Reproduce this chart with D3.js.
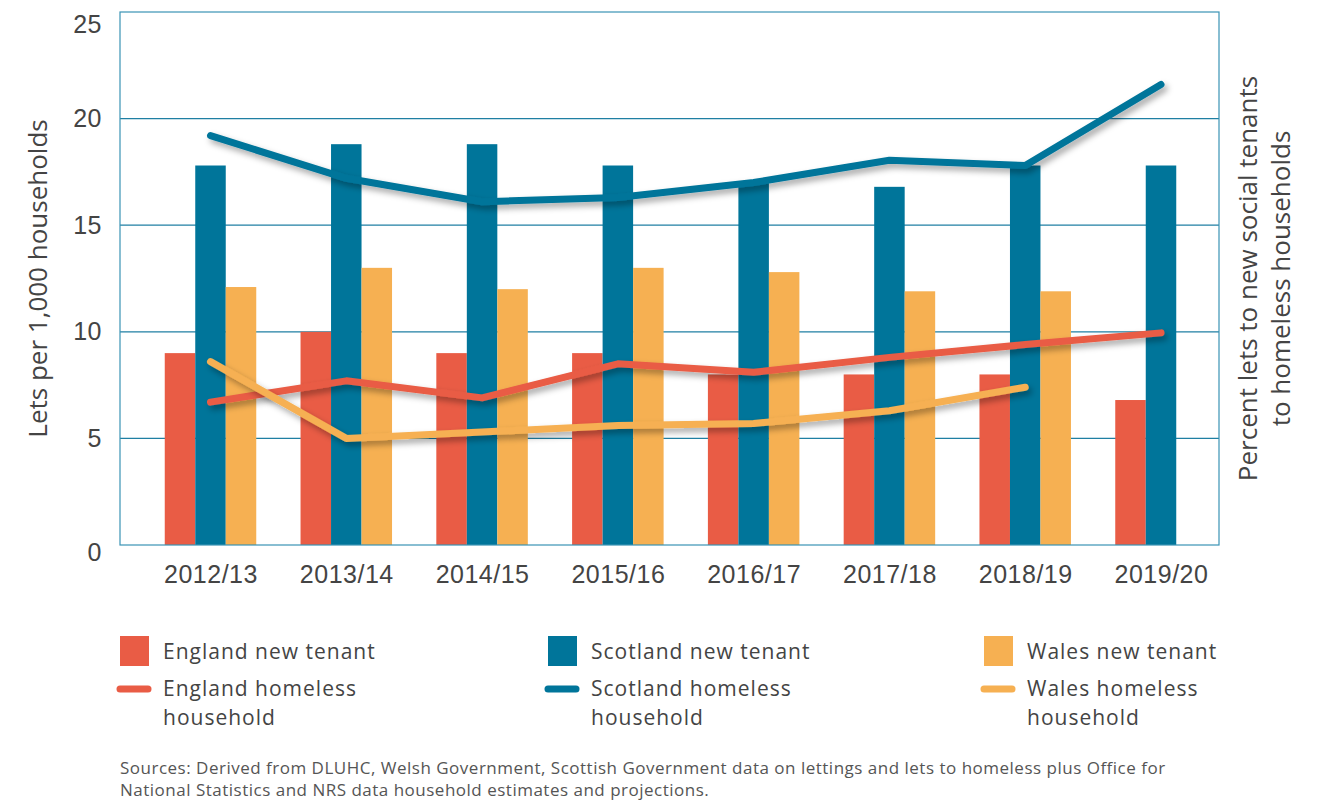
<!DOCTYPE html>
<html>
<head>
<meta charset="utf-8">
<script src="https://cdn.jsdelivr.net/npm/d3@7"></script>
<style>
  body { margin: 0; background: #fff; }
  svg { display: block; font-family: "Open Sans", Lato, sans-serif; }
</style>
</head>
<body>
<svg id="chart" width="1323" height="803"></svg>
<script>
// data
const years = ["2012/13", "2013/14", "2014/15", "2015/16", "2016/17", "2017/18", "2018/19", "2019/20"];
const englandTenant = [9, 10, 9, 9, 8, 8, 8, 6.8];
const scotlandTenant = [17.8, 18.8, 18.8, 17.8, 17, 16.8, 17.8, 17.8];
const walesTenant = [12.1, 13, 12, 13, 12.8, 11.9, 11.9, null];
const englandHomeless = [6.7, 7.7, 6.9, 8.5, 8.1, 8.8, 9.4, 9.95];
const scotlandHomeless = [19.2, 17.2, 16.1, 16.3, 17.0, 18.05, 17.8, 21.6];
const walesHomeless = [8.6, 5.0, 5.3, 5.6, 5.7, 6.3, 7.4, null];
const yTicks = [0, 5, 10, 15, 20, 25];

const colors = { england: "#e95c45", scotland: "#00759a", wales: "#f6b052" };
const grid = "#1f7fa3";
const textCol = "#444";

const svg = d3.select("#chart");
const margin = { top: 12, right: 104, bottom: 258, left: 120 };
const width = 1323 - margin.left - margin.right,
      height = 803 - margin.top - margin.bottom;

// shadow under the lines
const defs = svg.append("defs");
const f = defs.append("filter").attr("id", "shadow")
  .attr("x", "-10%").attr("y", "-30%").attr("width", "120%").attr("height", "160%");
f.append("feDropShadow").attr("dx", 3).attr("dy", 4).attr("stdDeviation", 3)
  .attr("flood-color", "#000").attr("flood-opacity", 0.35);

const g = svg.append("g").attr("transform", `translate(${margin.left},${margin.top})`);

const x = d3.scalePoint().domain(years).range([90.5, width - 58]);
const y = d3.scaleLinear().domain([0, 25]).range([height, 0]);
const barW = 30.5;

// gridlines
g.append("g").selectAll("line").data(yTicks.filter(d => d > 0 && d < 25)).join("line")
  .attr("x1", 0).attr("x2", width)
  .attr("y1", d => y(d)).attr("y2", d => y(d))
  .attr("stroke", grid).attr("stroke-width", 1.3);

// bars
const barSeries = [
  { key: "england", values: englandTenant, off: -1 },
  { key: "scotland", values: scotlandTenant, off: 0 },
  { key: "wales", values: walesTenant, off: 1 }
];
barSeries.forEach(s => {
  g.append("g").selectAll("rect")
    .data(years.map((yr, i) => ({ yr, v: s.values[i] })).filter(d => d.v != null))
    .join("rect")
    .attr("x", d => x(d.yr) + s.off * barW - barW / 2)
    .attr("width", barW)
    .attr("y", d => y(d.v))
    .attr("height", d => height - y(d.v))
    .attr("fill", colors[s.key]);
});

// frame
g.append("rect").attr("x", 0).attr("y", 0).attr("width", width).attr("height", height)
  .attr("fill", "none").attr("stroke", "#3a93b5").attr("stroke-width", 1.2);

// lines
const line = d3.line()
  .defined(d => d.v != null)
  .x(d => x(d.yr)).y(d => y(d.v));
[
  { key: "scotland", values: scotlandHomeless },
  { key: "england", values: englandHomeless },
  { key: "wales", values: walesHomeless }
].forEach(s => {
  g.append("path")
    .datum(years.map((yr, i) => ({ yr, v: s.values[i] })))
    .attr("fill", "none")
    .attr("stroke", colors[s.key])
    .attr("stroke-width", 7)
    .attr("stroke-linejoin", "round")
    .attr("stroke-linecap", "round")
    .attr("filter", "url(#shadow)")
    .attr("d", line);
});

// axes
const yAxis = g.append("g").call(d3.axisLeft(y).tickValues(yTicks).tickSize(0).tickPadding(18));
yAxis.select(".domain").remove();
yAxis.selectAll("text").attr("font-size", 25).attr("fill", textCol).attr("font-family", null)
  .attr("letter-spacing", 0.5)
  .attr("dy", d => d === 25 ? "0.8em" : d === 0 ? "0.62em" : "0.32em");

const xAxis = g.append("g").attr("transform", `translate(0,${height})`)
  .call(d3.axisBottom(x).tickSize(0).tickPadding(20));
xAxis.select(".domain").remove();
xAxis.selectAll("text").attr("font-size", 25).attr("fill", textCol).attr("font-family", null)
  .attr("letter-spacing", 0.5);

// axis titles
svg.append("text")
  .attr("transform", `translate(47,${margin.top + height / 2}) rotate(-90)`)
  .attr("text-anchor", "middle").attr("font-size", 26).attr("fill", textCol)
  .text("Lets per 1,000 households");
const rt = svg.append("text")
  .attr("transform", `translate(1257,${margin.top + height / 2}) rotate(-90)`)
  .attr("text-anchor", "middle").attr("font-size", 26).attr("fill", textCol);
rt.append("tspan").attr("x", 0).attr("dy", 0).text("Percent lets to new social tenants");
rt.append("tspan").attr("x", 0).attr("dy", 33).text("to homeless households");

// legend
const legendCols = [
  { key: "england", x: 120, bar: "England new tenant", ln: ["England homeless", "household"] },
  { key: "scotland", x: 548, bar: "Scotland new tenant", ln: ["Scotland homeless", "household"] },
  { key: "wales", x: 984, bar: "Wales new tenant", ln: ["Wales homeless", "household"] }
];
const lg = svg.append("g").attr("font-size", 21).attr("letter-spacing", 1).attr("fill", textCol);
legendCols.forEach(c => {
  lg.append("rect").attr("x", c.x).attr("y", 636).attr("width", 29).attr("height", 30)
    .attr("fill", colors[c.key]);
  lg.append("text").attr("x", c.x + 43).attr("y", 659).text(c.bar);
  lg.append("line").attr("x1", c.x).attr("x2", c.x + 28).attr("y1", 689).attr("y2", 689)
    .attr("stroke", colors[c.key]).attr("stroke-width", 7).attr("stroke-linecap", "round");
  const t = lg.append("text").attr("x", c.x + 43).attr("y", 696);
  c.ln.forEach((s, i) => t.append("tspan").attr("x", c.x + 43).attr("dy", i ? 29 : 0).text(s));
});

// source note
const src = svg.append("text").attr("x", 120).attr("y", 774).attr("font-size", 17)
  .attr("letter-spacing", 0.5).attr("fill", "#555");
src.append("tspan").attr("x", 120).text("Sources: Derived from DLUHC, Welsh Government, Scottish Government data on lettings and lets to homeless plus Office for");
src.append("tspan").attr("x", 120).attr("dy", 22).text("National Statistics and NRS data household estimates and projections.");
</script>
</body>
</html>
